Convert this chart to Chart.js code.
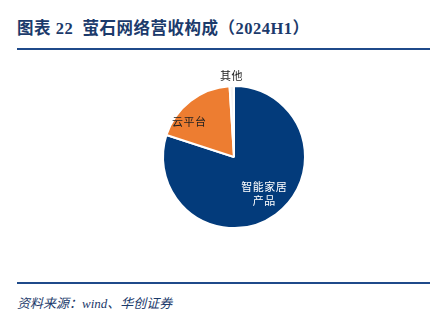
<!DOCTYPE html>
<html>
<head>
<meta charset="utf-8">
<script src="https://cdn.jsdelivr.net/npm/chart.js@4/dist/chart.umd.min.js"></script>
<style>
  html, body { margin: 0; padding: 0; background: #fff; }
  #wrap { position: relative; width: 444px; height: 316px; overflow: hidden; }
  #title { position: absolute; left: 17px; top: 15px; font-family: "Liberation Serif", "Noto Sans CJK SC", serif; font-weight: bold; font-size: 16.5px; color: #1B3A6B; white-space: nowrap; letter-spacing: 0.5px; }
  .rule { position: absolute; left: 17px; width: 413px; height: 2px; background: #1F4A8A; }
  #source { position: absolute; left: 17px; top: 293px; font-family: "Liberation Serif", "Noto Sans CJK SC", serif; font-style: italic; font-size: 13px; color: #1B3A6B; white-space: nowrap; }
  #chartBox { position: absolute; left: 134px; top: 57px; width: 200px; height: 200px; }
</style>
</head>
<body>
<div id="wrap">
  <div id="title">图表 22&nbsp; 萤石网络营收构成（2024H1）</div>
  <div class="rule" style="top:48px;"></div>
  <div id="chartBox"><canvas id="c"></canvas></div>
  <div class="rule" style="top:282px;"></div>
  <div id="source">资料来源：wind、华创证券</div>
</div>
<script>
const categories = ["智能家居产品", "云平台", "其他"];
const shares = [80.0, 19.0, 1.0];
const labelLines = [["智能家居", "产品"], ["云平台"], ["其他"]];

const sliceColors = ["#033B7B", "#ED7D31", "#F4F4F4"];
const labelColors = ["#FFFFFF", "#222222", "#222222"];
// label placement relative to each arc: [radius fraction, angle shift in radians]
const labelPlace = [[0.67, -0.06], [0.80, -0.25], [1.15, 0.0]];

const sliceLabels = {
  id: "sliceLabels",
  afterDatasetsDraw(chart) {
    const ctx = chart.ctx;
    const meta = chart.getDatasetMeta(0);
    ctx.save();
    ctx.font = "11px 'Noto Sans CJK SC', sans-serif";
    ctx.textAlign = "center";
    ctx.textBaseline = "middle";
    if ("letterSpacing" in ctx) ctx.letterSpacing = "0.5px";
    meta.data.forEach((arc, i) => {
      const p = arc.getProps(["x", "y", "startAngle", "endAngle", "outerRadius"], true);
      const mid = (p.startAngle + p.endAngle) / 2 + labelPlace[i][1];
      const r = p.outerRadius * labelPlace[i][0];
      const lx = p.x + Math.cos(mid) * r;
      const ly = p.y + Math.sin(mid) * r;
      const lines = labelLines[i];
      ctx.fillStyle = labelColors[i];
      const lh = 14;
      lines.forEach((t, k) => {
        ctx.fillText(t, lx, ly + (k - (lines.length - 1) / 2) * lh);
      });
    });
    ctx.restore();
  }
};

new Chart(document.getElementById("c"), {
  type: "pie",
  data: {
    labels: categories,
    datasets: [{
      data: shares,
      backgroundColor: sliceColors,
      borderColor: "#FFFFFF",
      borderWidth: 2
    }]
  },
  options: {
    responsive: true,
    maintainAspectRatio: false,
    animation: false,
    rotation: 0,
    layout: { padding: 28 },
    plugins: {
      legend: { display: false },
      tooltip: { enabled: false }
    }
  },
  plugins: [sliceLabels]
});
</script>
</body>
</html>
